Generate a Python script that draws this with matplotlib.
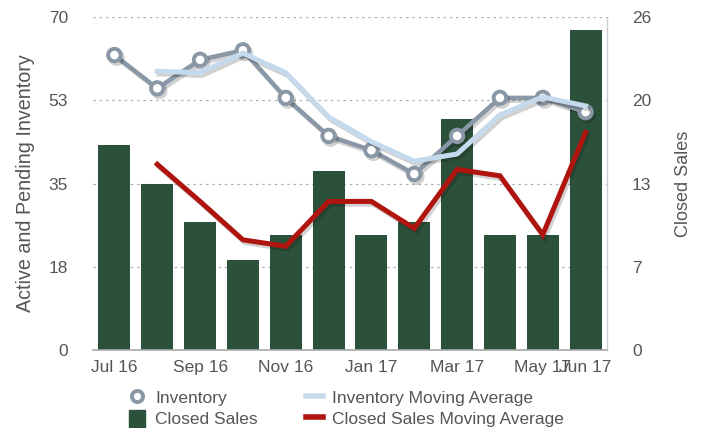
import matplotlib
matplotlib.use("Agg")
import matplotlib.pyplot as plt
import matplotlib.patheffects as pe
from matplotlib.lines import Line2D
from matplotlib.patches import Patch
import numpy as np

months = ["Jul 16", "Aug 16", "Sep 16", "Oct 16", "Nov 16", "Dec 16",
          "Jan 17", "Feb 17", "Mar 17", "Apr 17", "May 17", "Jun 17"]
tick_months = ["Jul 16", "Sep 16", "Nov 16", "Jan 17", "Mar 17", "May 17", "Jun 17"]
closed_sales = [16, 13, 10, 7, 9, 14, 9, 10, 18, 9, 9, 25]
inventory = [62, 55, 61, 63, 53, 45, 42, 37, 45, 53, 53, 50]
inventory_ma = [None, 58.6, 58.3, 62.4, 58.3, 49.0, 43.8, 39.7, 41.2, 49.4, 53.2, 51.3]
sales_ma = [None, 14.5, 11.6, 8.6, 8.1, 11.6, 11.6, 9.5, 14.1, 13.6, 9.0, 17.0]
left_tick_labels = ["0", "18", "35", "53", "70"]
right_tick_labels = ["0", "7", "13", "20", "26"]
left_max = 70
right_max = 26

plt.rcParams['font.family'] = ['Liberation Sans', 'DejaVu Sans']
TXT = "#555555"
FS = 12.5

fig = plt.figure(figsize=(7.02, 4.28), dpi=100)
ax = fig.add_axes([93/702, 1-350/428, (607-93)/702, (350-17)/428])
ax2 = ax.twinx()

x = np.arange(len(months))
inv_ma = np.array([np.nan if v is None else v for v in inventory_ma], dtype=float)
s_ma = np.array([np.nan if v is None else v for v in sales_ma], dtype=float)

shadow = [pe.SimpleLineShadow(offset=(1.5, -2), alpha=0.18, shadow_color='black'), pe.Normal()]

# right axis: bars + red MA
ax2.bar(x, closed_sales, width=0.75, color="#2c513a", zorder=2)
ax2.plot(x, s_ma, color="#b0140f", lw=3.6, zorder=3, path_effects=shadow,
         solid_joinstyle='miter')
ax2.set_ylim(0, right_max)
ax2.set_yticks(np.linspace(0, right_max, 5))
ax2.set_yticklabels(right_tick_labels)
ax2.grid(axis='y', color='#b0b0b0', linestyle=(0, (2, 3)), lw=0.9, zorder=0)
ax2.set_axisbelow(True)

# left axis: inventory lines
ax.set_zorder(ax2.get_zorder() + 1)
ax.patch.set_visible(False)
ax.plot(x, inventory, color="#8a97a6", lw=3.2, marker='o', ms=9, mew=2.8,
        mfc='white', mec="#8a97a6", zorder=3, path_effects=shadow)
ax.plot(x, inv_ma, color="#c6daee", lw=3.6, zorder=4, path_effects=shadow)
ax.set_ylim(0, left_max)
ax.set_yticks(np.linspace(0, left_max, 5))
ax.set_yticklabels(left_tick_labels)
ax.set_xlim(-0.5, len(months) - 0.5)
ax.set_xticks([months.index(m) for m in tick_months])
ax.set_xticklabels(tick_months)

for a in (ax, ax2):
    for s in ('top', 'left', 'right', 'bottom'):
        a.spines[s].set_visible(False)
    a.tick_params(length=0, labelsize=FS, colors=TXT)

ax.spines['bottom'].set_visible(True)
ax.spines['bottom'].set_color('#a8a8a8')
ax.spines['bottom'].set_linewidth(1.2)
ax2.spines['right'].set_visible(True)
ax2.spines['right'].set_color('#cccccc')
ax2.spines['right'].set_linewidth(1.0)

ax.tick_params(axis='y', pad=18)
ax2.tick_params(axis='y', pad=18)
ax.tick_params(axis='x', pad=7)

ax.set_ylabel("Active and Pending Inventory", fontsize=14.2, color=TXT, labelpad=10)
ax2.set_ylabel("Closed Sales", fontsize=13, color=TXT, labelpad=17)

handles = [
    Line2D([], [], color="#8a97a6", marker='o', ms=8, mew=2.8, mfc='white', lw=0),
    Patch(color="#2c513a"),
    Line2D([], [], color="#c6daee", lw=4),
    Line2D([], [], color="#b0140f", lw=4),
]
labels = ["Inventory", "Closed Sales", "Inventory Moving Average", "Closed Sales Moving Average"]
fig.legend(handles, labels, ncol=2, loc='upper left', bbox_to_anchor=(129/702, 1-389/428),
           frameon=False, fontsize=FS, labelcolor=TXT, handlelength=0.95, handleheight=1.1,
           handletextpad=0.55, columnspacing=2.8, labelspacing=0.22, borderpad=0,
           borderaxespad=0)

fig.savefig("out.png", dpi=100)
